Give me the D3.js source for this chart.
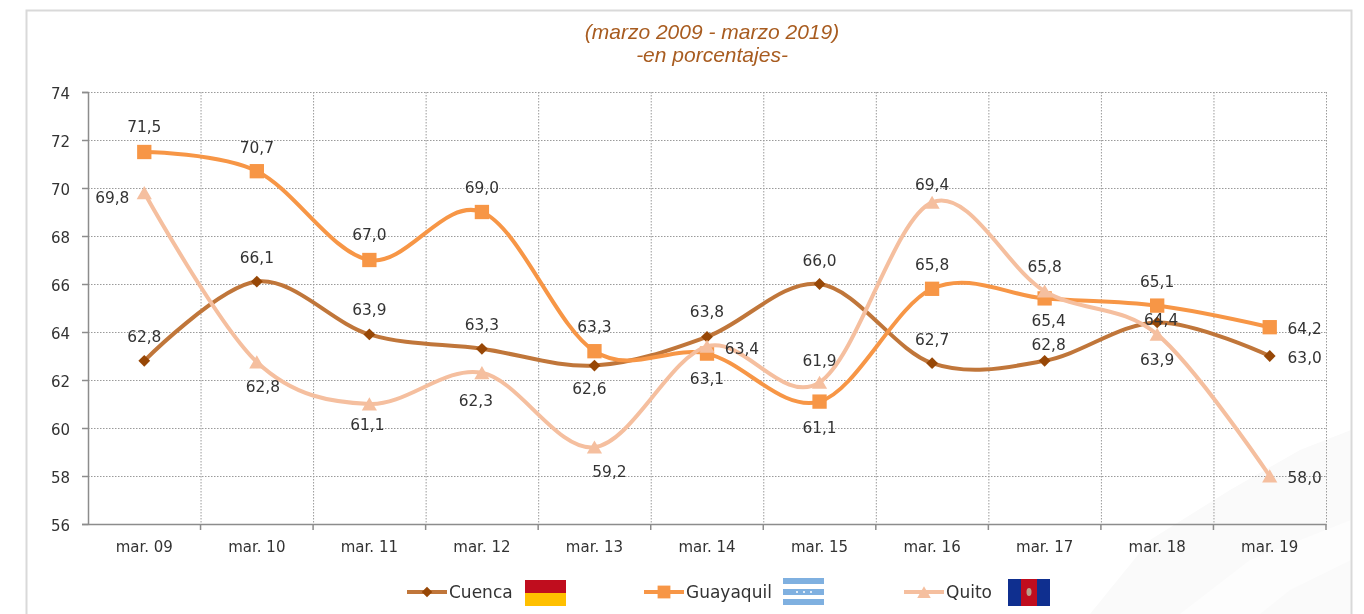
<!DOCTYPE html>
<html>
<head>
<meta charset="utf-8">
<style>
  html, body { margin: 0; background: #fff; }
  svg { display: block; filter: blur(0.4px); }
  text { font-family: "DejaVu Sans", sans-serif; fill: #333; }
</style>
</head>
<body>
<svg width="1364" height="614"></svg>
<script src="https://d3js.org/d3.v7.min.js"></script>
<script>

  var months = ["mar. 09", "mar. 10", "mar. 11", "mar. 12", "mar. 13", "mar. 14", "mar. 15", "mar. 16", "mar. 17", "mar. 18", "mar. 19"];
  var yTicks = [56, 58, 60, 62, 64, 66, 68, 70, 72, 74];

  var cuenca = [62.8, 66.1, 63.9, 63.3, 62.6, 63.8, 66.0, 62.7, 62.8, 64.4, 63.0];
  var guayaquil = [71.5, 70.7, 67.0, 69.0, 63.2, 63.1, 61.1, 65.8, 65.4, 65.1, 64.2];
  var quito = [69.8, 62.75, 61.0, 62.3, 59.2, 63.4, 61.9, 69.4, 65.7, 63.9, 58.0];

  // printed labels differ a little from where the markers sit
  var cuencaLabels = ["62,8", "66,1", "63,9", "63,3", "62,6", "63,8", "66,0", "62,7", "62,8", "64,4", "63,0"];
  var guayaquilLabels = ["71,5", "70,7", "67,0", "69,0", "63,3", "63,1", "61,1", "65,8", "65,4", "65,1", "64,2"];
  var quitoLabels = ["69,8", "62,8", "61,1", "62,3", "59,2", "63,4", "61,9", "69,4", "65,8", "63,9", "58,0"];

  // label offsets from the marker, by hand
  var cuencaOffsets = [[0, -24], [0, -24], [0, -25], [0, -24], [-5, 23], [0, -25], [0, -23], [0, -24], [4, -16], [4, -3], [35, 2]];
  var guayaquilOffsets = [[0, -25], [0, -24], [0, -25], [0, -24], [0, -25], [0, 25], [0, 26], [0, -24], [4, 22], [0, -24], [35, 1]];
  var quitoOffsets = [[-32, 5], [6, 25], [-2, 21], [-6, 28], [15, 24], [35, 2], [0, -22], [0, -18], [0, -25], [0, 25], [35, 2]];

  var svg = d3.select("svg"),
    margin = { top: 92, right: 38, bottom: 90, left: 88 },
    width = +svg.attr("width") - margin.left - margin.right,
    height = +svg.attr("height") - margin.top - margin.bottom;

  // faint watermark, bottom right corner
  var mark = svg.append("g").attr("fill", "#fafafa");
  mark.append("path").attr("d", "M1090 614L1150 540L1230 490L1300 450L1351 430L1351 614Z");
  mark.append("path").attr("d", "M1180 614L1250 560L1351 520L1351 560L1290 590L1260 614Z").attr("fill", "#fdfdfd");

  svg.append("path")
    .attr("d", "M26.5 614V10.5H1351.5V614")
    .attr("fill", "none")
    .attr("stroke", "#d9d9d9")
    .attr("stroke-width", 2);

  var g = svg.append("g").attr("transform", "translate(" + margin.left + "," + margin.top + ")");

  var x = d3.scaleBand().domain(months).range([0, width]);
  var y = d3.scaleLinear().domain([56, 74]).range([height, 0]);

  function cx(i) { return x(months[i]) + x.bandwidth() / 2; }

  // grid
  g.append("g").selectAll("line").data(yTicks.slice(1)).enter().append("line")
    .attr("x1", 0).attr("x2", width)
    .attr("y1", function (d) { return y(d) + 0.5; })
    .attr("y2", function (d) { return y(d) + 0.5; })
    .attr("stroke", "#9a9a9a")
    .attr("stroke-dasharray", "1.5 1.5");

  g.append("g").selectAll("line").data(months).enter().append("line")
    .attr("x1", function (d, i) { return x(d) + x.bandwidth() + 0.5; })
    .attr("x2", function (d, i) { return x(d) + x.bandwidth() + 0.5; })
    .attr("y1", 0).attr("y2", height)
    .attr("stroke", "#9a9a9a")
    .attr("stroke-dasharray", "1.5 1.5");

  // axes
  var yAxis = d3.axisLeft(y).tickValues(yTicks).tickSize(6).tickPadding(12);
  var yGroup = g.append("g").call(yAxis);
  yGroup.selectAll("line, .domain").attr("stroke", "#8c8c8c").attr("stroke-width", 1.5);
  yGroup.selectAll("text").attr("font-size", 15).attr("dy", "0.4em").style("font-family", "DejaVu Sans").style("fill", "#333");

  var xAxis = d3.axisBottom(x).tickSize(0).tickPadding(17);
  var xGroup = g.append("g").attr("transform", "translate(0," + height + ")").call(xAxis);
  xGroup.select(".domain").attr("stroke", "#8c8c8c").attr("stroke-width", 1.5);
  xGroup.selectAll("text").attr("font-size", 15).style("font-family", "DejaVu Sans").style("fill", "#333");

  xGroup.selectAll(".edge").data(months).enter().append("line")
    .attr("class", "edge")
    .attr("x1", function (d) { return x(d) + x.bandwidth(); })
    .attr("x2", function (d) { return x(d) + x.bandwidth(); })
    .attr("y1", 0).attr("y2", 6)
    .attr("stroke", "#8c8c8c")
    .attr("stroke-width", 1.5);

  var line = d3.line()
    .curve(d3.curveCardinal.tension(0))
    .x(function (d, i) { return cx(i); })
    .y(function (d) { return y(d); });

  // Cuenca's diamond is a turned square, d3's own diamond is too narrow
  var series = [
    { name: "Cuenca", values: cuenca, labels: cuencaLabels, offsets: cuencaOffsets, stroke: "#c0763a", fill: "#974706", symbol: d3.symbolSquare, size: 70, turn: " rotate(45)", shift: 0 },
    { name: "Guayaquil", values: guayaquil, labels: guayaquilLabels, offsets: guayaquilOffsets, stroke: "#f79646", fill: "#f79646", symbol: d3.symbolSquare, size: 205, turn: "", shift: 0 },
    { name: "Quito", values: quito, labels: quitoLabels, offsets: quitoOffsets, stroke: "#f5bf9f", fill: "#f5bf9f", symbol: d3.symbolTriangle, size: 100, turn: "", shift: 2 }
  ];

  series.forEach(function (s) {
    g.append("path").datum(s.values)
      .attr("d", line)
      .attr("fill", "none")
      .attr("stroke", s.stroke)
      .attr("stroke-width", 4);

    g.append("g").selectAll("path").data(s.values).enter().append("path")
      .attr("d", d3.symbol().type(s.symbol).size(s.size))
      .attr("fill", s.fill)
      .attr("transform", function (d, i) { return "translate(" + cx(i) + "," + (y(d) + s.shift) + ")" + s.turn; });
  });

  series.forEach(function (s) {
    g.append("g").selectAll("text").data(s.values).enter().append("text")
      .attr("x", function (d, i) { return cx(i) + s.offsets[i][0]; })
      .attr("y", function (d, i) { return y(d) + s.offsets[i][1]; })
      .attr("dy", "0.35em")
      .attr("text-anchor", "middle")
      .attr("font-size", 15.4)
      .text(function (d, i) { return s.labels[i]; });
  });

  // title
  var title = svg.append("g").attr("text-anchor", "middle").attr("font-size", 21).attr("font-style", "italic");
  title.append("text").attr("x", 712).attr("y", 39).style("fill", "#a85c20").style("font-family", "Liberation Sans").text("(marzo 2009 - marzo 2019)");
  title.append("text").attr("x", 712).attr("y", 62).style("fill", "#a85c20").style("font-family", "Liberation Sans").text("-en porcentajes-");

  // legend
  var legendX = [407, 644, 904];
  var legend = svg.append("g").selectAll("g").data(series).enter().append("g")
    .attr("transform", function (d, i) { return "translate(" + legendX[i] + ",592)"; });

  legend.append("line").attr("x1", 0).attr("x2", 40)
    .attr("stroke", function (d) { return d.stroke; })
    .attr("stroke-width", 4);
  legend.append("path")
    .attr("d", function (d) { return d3.symbol().type(d.symbol).size(d.size * 0.8)(); })
    .attr("fill", function (d) { return d.fill; })
    .attr("transform", function (d) { return "translate(20," + d.shift + ")" + d.turn; });
  legend.append("text").attr("x", 42).attr("dy", "0.33em").attr("font-size", 17).text(function (d) { return d.name; });

  // flags
  var flags = svg.append("g");
  flags.append("rect").attr("x", 525).attr("y", 580).attr("width", 41).attr("height", 13).attr("fill", "#c00d1e");
  flags.append("rect").attr("x", 525).attr("y", 593).attr("width", 41).attr("height", 13).attr("fill", "#ffc000");

  [578, 589, 599].forEach(function (top) {
    flags.append("rect").attr("x", 783).attr("y", top).attr("width", 41).attr("height", 6).attr("fill", "#7fb0e0");
  });
  [797, 804, 811].forEach(function (left) {
    flags.append("circle").attr("cx", left).attr("cy", 592).attr("r", 1).attr("fill", "#fff");
  });

  flags.append("rect").attr("x", 1008).attr("y", 579).attr("width", 42).attr("height", 27).attr("fill", "#0f2f8f");
  flags.append("rect").attr("x", 1021).attr("y", 579).attr("width", 16).attr("height", 27).attr("fill", "#c00d1e");
  flags.append("ellipse").attr("cx", 1029).attr("cy", 592).attr("rx", 2.5).attr("ry", 4).attr("fill", "#b9a08a");

</script>
</body>
</html>
